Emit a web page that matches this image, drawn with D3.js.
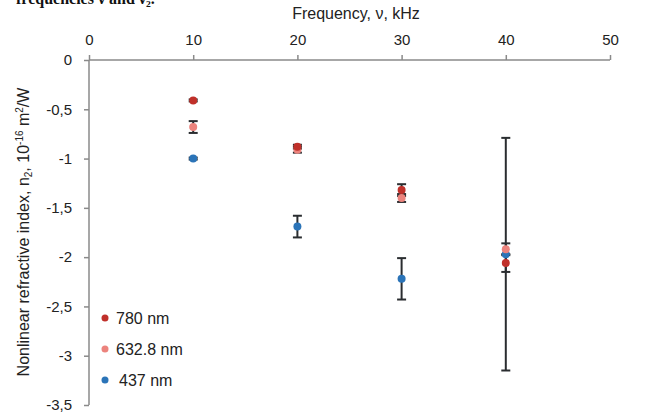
<!DOCTYPE html>
<html><head><meta charset="utf-8">
<script src="https://cdn.jsdelivr.net/npm/d3@7"></script>
<style>body{margin:0;background:#fff}svg{display:block}</style>
</head><body>
<script>
const frequencies = [10, 20, 30, 40];
const xTicks = [0, 10, 20, 30, 40, 50];
const yTicks = [0, -0.5, -1, -1.5, -2, -2.5, -3, -3.5];
const seriesNames = ["780 nm", "632.8 nm", "437 nm"];
const seriesColors = ["#c0302a", "#ec837d", "#2b74b8"];
const n780 = [-0.41, -0.88, -1.32, -2.06];
const err780 = [0.01, 0.02, 0.06, 0.09];
const n632 = [-0.68, -0.91, -1.40, -1.92];
const err632 = [0.06, 0.03, 0.04, 0.06];
const n437 = [-1.00, -1.69, -2.22, -1.97];
const err437 = [0.01, 0.11, 0.21, 1.18];

const W = 646, H = 414;
const svg = d3.select("body").append("svg").attr("width", W).attr("height", H);
const font = "'Liberation Sans', Arial, sans-serif";

// cropped caption text at top
svg.append("text").attr("x", 16).attr("y", 4).attr("font-family", "'Liberation Serif', serif")
  .attr("font-size", 16).attr("font-weight", "bold").attr("fill", "#111").text("frequencies ν and ν₂.");

const x = d3.scaleLinear().domain([0, 50]).range([89, 610]);
const y = d3.scaleLinear().domain([0, -3.5]).range([60, 405]);
const axisColor = "#8a8a8a";

// x axis at top (y = 0)
const xAxis = svg.append("g").attr("transform", `translate(0,${y(0)})`)
  .call(d3.axisTop(x).tickValues(xTicks).tickSize(5).tickPadding(10).tickFormat(d3.format("d")));
xAxis.select(".domain").attr("stroke", axisColor).attr("stroke-width", 1.5).attr("d", `M${x(0)},0H${x(50)}`);
xAxis.selectAll(".tick line").attr("stroke", axisColor).attr("stroke-width", 1.5).attr("y1", 0).attr("y2", -5);
xAxis.selectAll(".tick text").attr("font-family", font).attr("font-size", 15).attr("fill", "#222");

// y axis
const fmt = d => d === 0 ? "0" : String(d).replace(".", ",");
const yAxis = svg.append("g").attr("transform", `translate(${x(0)},0)`)
  .call(d3.axisLeft(y).tickValues(yTicks).tickSize(5).tickPadding(12).tickFormat(fmt));
yAxis.select(".domain").attr("stroke", axisColor).attr("stroke-width", 1.5).attr("d", `M0,${y(0)}V${y(-3.5)}`);
yAxis.selectAll(".tick line").attr("stroke", axisColor).attr("stroke-width", 1.5);
yAxis.selectAll(".tick text").attr("font-family", font).attr("font-size", 15).attr("fill", "#222");

// titles
svg.append("text").attr("x", 356).attr("y", 19).attr("text-anchor", "middle")
  .attr("font-family", font).attr("font-size", 16).attr("fill", "#222").text("Frequency, ν, kHz");

const yt = svg.append("text").attr("transform", `translate(29,${232}) rotate(-90)`).attr("text-anchor", "middle")
  .attr("font-family", font).attr("font-size", 16).attr("fill", "#222");
yt.append("tspan").text("Nonlinear refractive index, n");
yt.append("tspan").attr("font-size", 10).attr("dy", 3).text("2");
yt.append("tspan").attr("dy", -3).text(", 10");
yt.append("tspan").attr("font-size", 10).attr("dy", -6).text("-16");
yt.append("tspan").attr("dy", 6).text(" m");
yt.append("tspan").attr("font-size", 10).attr("dy", -6).text("2");
yt.append("tspan").attr("dy", 6).text("/W");

const series = [
  {vals: n780, errs: err780},
  {vals: n632, errs: err632},
  {vals: n437, errs: err437}
];

// error bars
const errG = svg.append("g");
[2, 1, 0].forEach(si => {
  const s = series[si];
  frequencies.forEach((f, i) => {
    const cx = x(f), y1 = y(s.vals[i] + s.errs[i]), y2 = y(s.vals[i] - s.errs[i]);
    errG.append("line").attr("x1", cx).attr("x2", cx).attr("y1", y1).attr("y2", y2)
      .attr("stroke", "#2a2d30").attr("stroke-width", 2);
    [y1, y2].forEach(yy => errG.append("line").attr("x1", cx - 4.5).attr("x2", cx + 4.5)
      .attr("y1", yy).attr("y2", yy).attr("stroke", "#2a2d30").attr("stroke-width", 2));
  });
});

// points
[2, 1, 0].forEach(si => {
  const s = series[si];
  svg.append("g").selectAll("circle").data(frequencies).join("circle")
    .attr("cx", d => x(d)).attr("cy", (d, i) => y(s.vals[i])).attr("r", 4)
    .attr("fill", seriesColors[si]);
});

// legend
const legY = [318, 349, 380];
const legX = [116, 116, 119];
seriesNames.forEach((nm, i) => {
  svg.append("circle").attr("cx", 105).attr("cy", legY[i]).attr("r", 3.5).attr("fill", seriesColors[i]);
  svg.append("text").attr("x", legX[i]).attr("y", legY[i] + 6).attr("font-family", font)
    .attr("font-size", 16).attr("fill", "#222").text(nm);
});
</script>
</body></html>
